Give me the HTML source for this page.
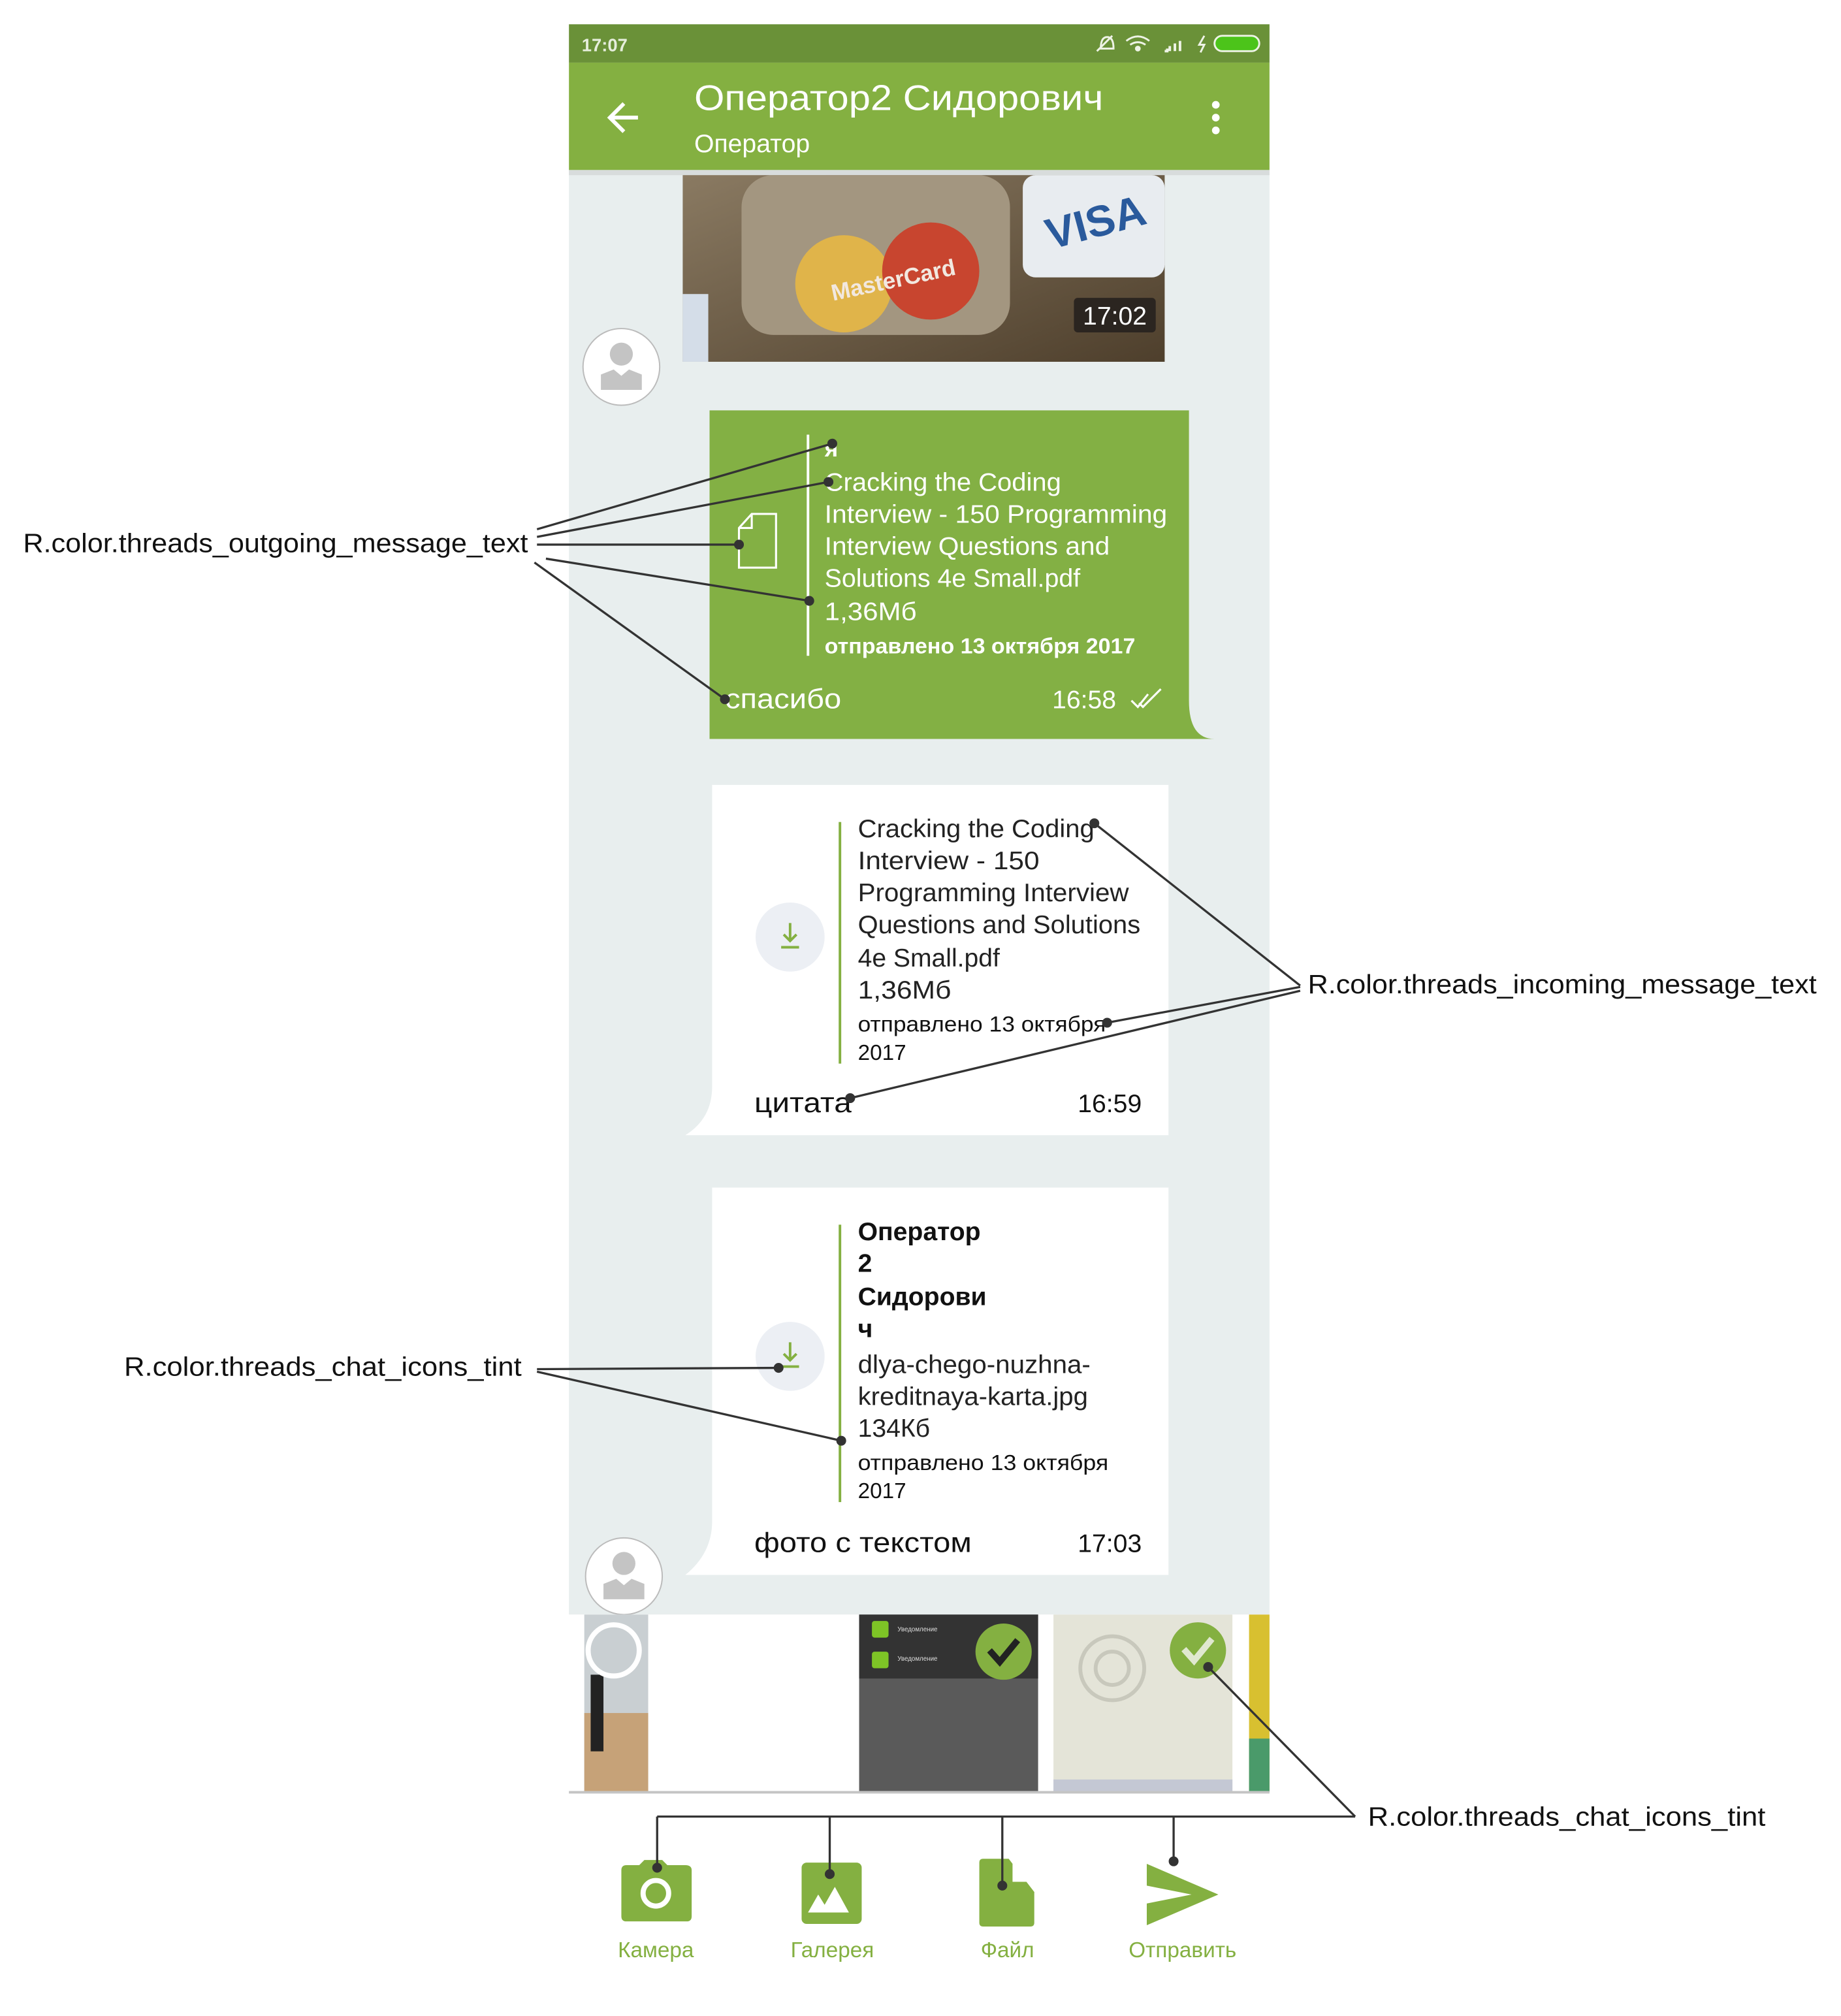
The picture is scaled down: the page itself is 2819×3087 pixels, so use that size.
<!DOCTYPE html>
<html><head><meta charset="utf-8"><style>
html,body{margin:0;padding:0;background:#fff;}
svg{display:block;}
text{font-family:"Liberation Sans","DejaVu Sans",sans-serif;}
</style></head><body>
<svg width="2819" height="3087" viewBox="0 0 1440 1577" xmlns="http://www.w3.org/2000/svg">
<rect width="1440" height="1577" fill="#fff"/>
<g>
 <rect x="445" y="133" width="548" height="1130" fill="#e8eeee"/>
 <rect x="445" y="19" width="548" height="30" fill="#6a9138"/>
 <text x="455" y="40" font-size="14" font-weight="bold" fill="#e6eedc">17:07</text>
 <g fill="none" stroke="#eef3e6" stroke-width="1.5">
  <path d="M858 40 L870 28 M861 38 q0-9 5-9 q5 0 5 9z"/>
  <path d="M881 32 q9-7 18 0 M884 35 q6-4 12 0"/><circle cx="890" cy="38" r="1.5" fill="#eef3e6"/>
  <path d="M911 40 h2 v-2 M915 40 v-4 M919 40 v-6 M923 40 v-8" stroke-width="2"/>
  <path d="M942 28 l-4 7 h4 l-3 6" />
  <rect x="950" y="28" width="35" height="12" rx="6" fill="#4cc41a" stroke="#eef3e6"/>
 </g>
 <rect x="445" y="49" width="548" height="84" fill="#84b041"/>
 <rect x="445" y="133" width="548" height="4" fill="#d8dcdc"/>
 <g stroke="#fff" stroke-width="3" fill="none"><path d="M477 92 h22 M488 81 l-11 11 l11 11"/></g>
 <text x="543" y="86" font-size="28" fill="#fff" textLength="320" lengthAdjust="spacingAndGlyphs">Оператор2 Сидорович</text>
 <text x="543" y="119" font-size="20" fill="#fff">Оператор</text>
 <g fill="#fff"><circle cx="951" cy="82" r="3"/><circle cx="951" cy="92" r="3"/><circle cx="951" cy="102" r="3"/></g>

 <g>
  <defs><linearGradient id="cg" x1="0" y1="0" x2="1" y2="1"><stop offset="0" stop-color="#8a7a62"/><stop offset="1" stop-color="#4e3f2c"/></linearGradient></defs>
  <rect x="534" y="137" width="377" height="146" fill="url(#cg)"/>
  <rect x="580" y="137" width="210" height="125" rx="25" fill="#a39680"/>
  <circle cx="660" cy="222" r="38" fill="#e0b44a"/><circle cx="728" cy="212" r="38" fill="#c8452f"/>
  <text x="700" y="225" font-size="18" font-weight="bold" fill="#f2e8e0" text-anchor="middle" transform="rotate(-12 700 225)">MasterCard</text>
  <rect x="800" y="137" width="111" height="80" rx="10" fill="#e8ecf0"/>
  <text x="860" y="185" font-size="34" font-weight="bold" fill="#2a5a9c" text-anchor="middle" transform="rotate(-15 860 185)">VISA</text>
  <rect x="534" y="230" width="20" height="53" fill="#d4dde8"/>
  <rect x="840" y="233" width="64" height="27" rx="3" fill="#2b2520"/>
  <text x="872" y="254" font-size="20" fill="#fff" text-anchor="middle">17:02</text>
 </g>
 <g>
  <circle cx="486" cy="287" r="30" fill="#fff" stroke="#bbb" stroke-width="1"/>
  <circle cx="486" cy="277" r="9" fill="#c4c4c4"/><path d="M470 305 v-12 l10-4 l6 5 l6-5 l10 4 v12z" fill="#c4c4c4"/>
 </g>

 <g>
  <path d="M555 321 H930 V548 Q930 578 950 578 H555 Z" fill="#83b044"/>
  <rect x="631" y="340" width="2" height="173" fill="#fff"/>
  <path d="M588 402 H607 V444 H578 V413 Z M578 413 H588 V402" fill="none" stroke="#fff" stroke-width="1.6"/>
  <text x="645" y="357" font-size="18" font-weight="bold" fill="#fff">я</text>
  <g font-size="20" fill="#fff">
   <text x="645" y="384" textLength="185" lengthAdjust="spacingAndGlyphs">Cracking the Coding</text>
   <text x="645" y="409" textLength="268" lengthAdjust="spacingAndGlyphs">Interview - 150 Programming</text>
   <text x="645" y="434" textLength="223" lengthAdjust="spacingAndGlyphs">Interview Questions and</text>
   <text x="645" y="459" textLength="200" lengthAdjust="spacingAndGlyphs">Solutions 4e Small.pdf</text>
   <text x="645" y="485" textLength="72" lengthAdjust="spacingAndGlyphs">1,36Мб</text>
  </g>
  <text x="645" y="511" font-size="17" fill="#fff" font-weight="bold" textLength="243" lengthAdjust="spacingAndGlyphs">отправлено 13 октября 2017</text>
  <text x="567" y="554" font-size="22" fill="#fff" textLength="91" lengthAdjust="spacingAndGlyphs">спасибо</text>
  <text x="823" y="554" font-size="20" fill="#fff">16:58</text>
  <path d="M885 548 l5 5 l8-10 M891 550 l3 3 l14-14" stroke="#fff" stroke-width="1.6" fill="none"/>
 </g>

 <g>
  <path d="M557 614 H914 V888 H536 Q557 875 557 850 Z" fill="#fff"/>
  <circle cx="618" cy="733" r="27" fill="#eceff4"/>
  <path d="M618 722 v14 M613 731 l5 5 l5-5 M611 741 h14" stroke="#84b041" stroke-width="2" fill="none"/>
  <rect x="656" y="643" width="2" height="189" fill="#84b041"/>
  <g font-size="20" fill="#222">
   <text x="671" y="655" textLength="185" lengthAdjust="spacingAndGlyphs">Cracking the Coding</text>
   <text x="671" y="680" textLength="142" lengthAdjust="spacingAndGlyphs">Interview - 150</text>
   <text x="671" y="705" textLength="212" lengthAdjust="spacingAndGlyphs">Programming Interview</text>
   <text x="671" y="730" textLength="221" lengthAdjust="spacingAndGlyphs">Questions and Solutions</text>
   <text x="671" y="756" textLength="111" lengthAdjust="spacingAndGlyphs">4e Small.pdf</text>
   <text x="671" y="781" textLength="73" lengthAdjust="spacingAndGlyphs">1,36Мб</text>
  </g>
  <g font-size="17" fill="#111">
   <text x="671" y="807" textLength="194" lengthAdjust="spacingAndGlyphs">отправлено 13 октября</text>
   <text x="671" y="829">2017</text>
  </g>
  <text x="590" y="870" font-size="22" fill="#111" textLength="76" lengthAdjust="spacingAndGlyphs">цитата</text>
  <text x="843" y="870" font-size="20" fill="#111">16:59</text>
 </g>

 <g>
  <path d="M557 929 H914 V1232 H536 Q557 1215 557 1190 Z" fill="#fff"/>
  <circle cx="618" cy="1061" r="27" fill="#eceff4"/>
  <path d="M618 1050 v14 M613 1059 l5 5 l5-5 M611 1069 h14" stroke="#84b041" stroke-width="2" fill="none"/>
  <rect x="656" y="958" width="2" height="217" fill="#84b041"/>
  <g font-size="20" font-weight="bold" fill="#111">
   <text x="671" y="970">Оператор</text><text x="671" y="995">2</text>
   <text x="671" y="1021">Сидорови</text><text x="671" y="1046">ч</text>
  </g>
  <g font-size="20" fill="#222">
   <text x="671" y="1074" textLength="182" lengthAdjust="spacingAndGlyphs">dlya-chego-nuzhna-</text>
   <text x="671" y="1099" textLength="180" lengthAdjust="spacingAndGlyphs">kreditnaya-karta.jpg</text>
   <text x="671" y="1124">134Кб</text>
  </g>
  <g font-size="17" fill="#111">
   <text x="671" y="1150" textLength="196" lengthAdjust="spacingAndGlyphs">отправлено 13 октября</text>
   <text x="671" y="1172">2017</text>
  </g>
  <text x="590" y="1214" font-size="22" fill="#111" textLength="170" lengthAdjust="spacingAndGlyphs">фото с текстом</text>
  <text x="843" y="1214" font-size="20" fill="#111">17:03</text>
 </g>
 <g>
  <circle cx="488" cy="1233" r="30" fill="#fff" stroke="#bbb" stroke-width="1"/>
  <circle cx="488" cy="1223" r="9" fill="#c4c4c4"/><path d="M472 1251 v-12 l10-4 l6 5 l6-5 l10 4 v12z" fill="#c4c4c4"/>
 </g>

 <g>
  <rect x="445" y="1263" width="548" height="139" fill="#fff"/>
  <rect x="457" y="1263" width="50" height="139" fill="#c9cfd2"/>
  <rect x="457" y="1340" width="50" height="62" fill="#c6a278"/>
  <path d="M462 1310 h10 v60 h-10z" fill="#222"/>
  <circle cx="480" cy="1291" r="20" fill="none" stroke="#fff" stroke-width="4"/>
  <rect x="672" y="1263" width="140" height="139" fill="#5a5a5a"/>
  <rect x="672" y="1263" width="140" height="50" fill="#333"/>
  <rect x="682" y="1268" width="13" height="13" rx="2" fill="#7ec426"/><rect x="682" y="1292" width="13" height="13" rx="2" fill="#7ec426"/>
  <text x="702" y="1276" font-size="5" fill="#ddd">Уведомление</text><text x="702" y="1299" font-size="5" fill="#ddd">Уведомление</text>
  <circle cx="785" cy="1292" r="22" fill="#84b041"/><path d="M774 1291 l8 9 l14-17" stroke="#222" stroke-width="5" fill="none"/>
  <rect x="824" y="1263" width="140" height="139" fill="#e4e4d8"/>
  <circle cx="870" cy="1305" r="25" fill="none" stroke="#c8c8bc" stroke-width="3"/><circle cx="870" cy="1305" r="13" fill="none" stroke="#c8c8bc" stroke-width="3"/>
  <rect x="824" y="1392" width="140" height="10" fill="#c4c8d4"/>
  <circle cx="937" cy="1291" r="22" fill="#84b041"/><path d="M926 1290 l8 9 l14-17" stroke="#e0e8d0" stroke-width="5" fill="none"/>
  <rect x="977" y="1263" width="16" height="139" fill="#d8c030"/>
  <rect x="977" y="1360" width="16" height="42" fill="#4a9a6a"/>
  <rect x="445" y="1401" width="548" height="2" fill="#c4c4c4"/>
 </g>

 <g fill="#84b041">
  <g>
   <path d="M486 1463 q0-4 4-4 h10 l4-4 h14 l4 4 h14 q5 0 5 4 v36 q0 4-4 4 h-47 q-4 0-4-4z"/>
   <circle cx="513" cy="1481" r="10" fill="none" stroke="#fff" stroke-width="4"/>
   <text x="513" y="1531" font-size="17" text-anchor="middle">Камера</text>
  </g>
  <g>
   <rect x="627" y="1457" width="47" height="48" rx="4"/>
   <path d="M632 1496 l8-14 l5 8 l8-14 l11 20z" fill="#fff"/>
   <text x="651" y="1531" font-size="17" text-anchor="middle">Галерея</text>
  </g>
  <g>
   <path d="M769 1454 h20 l20 26 v24 q0 3-3 3 h-37 q-3 0-3-3 v-47 q0-3 3-3z"/>
   <path d="M792 1455 v17 h14z" fill="#fff"/>
   <text x="788" y="1531" font-size="17" text-anchor="middle">Файл</text>
  </g>
  <g>
   <path d="M897 1458 l56 24 l-56 24 v-17 l35-7 l-35-7z"/>
   <text x="925" y="1531" font-size="17" text-anchor="middle">Отправить</text>
  </g>
 </g>
</g>

<g stroke="#333" stroke-width="1.7" fill="#333">
 <text x="18" y="432" font-size="21" stroke="none" fill="#111" textLength="395" lengthAdjust="spacingAndGlyphs">R.color.threads_outgoing_message_text</text>
 <path d="M420 414 L651 347 M420 420 L648 377 M420 426 L578 426 M427 437 L633 470 M418 440 L567 547" fill="none"/>
 <circle cx="651" cy="347" r="3"/><circle cx="648" cy="377" r="3"/><circle cx="578" cy="426" r="3"/><circle cx="633" cy="470" r="3"/><circle cx="567" cy="547" r="3"/>
 <text x="1023" y="777" font-size="21" stroke="none" fill="#111" textLength="398" lengthAdjust="spacingAndGlyphs">R.color.threads_incoming_message_text</text>
 <path d="M1017 771 L856 644 M1017 772 L866 800 M1017 775 L665 859" fill="none"/>
 <circle cx="856" cy="644" r="3"/><circle cx="866" cy="800" r="3"/><circle cx="665" cy="859" r="3"/>
 <text x="97" y="1076" font-size="21" stroke="none" fill="#111" textLength="311" lengthAdjust="spacingAndGlyphs">R.color.threads_chat_icons_tint</text>
 <path d="M420 1071 L609 1070 M420 1073 L658 1127" fill="none"/>
 <circle cx="609" cy="1070" r="3"/><circle cx="658" cy="1127" r="3"/>
 <text x="1070" y="1428" font-size="21" stroke="none" fill="#111" textLength="311" lengthAdjust="spacingAndGlyphs">R.color.threads_chat_icons_tint</text>
 <path d="M1060 1421 L945 1304 M514 1421 H1060 M514 1421 V1461 M649 1421 V1466 M784 1421 V1475 M918 1421 V1456" fill="none"/>
 <circle cx="945" cy="1304" r="3"/><circle cx="514" cy="1461" r="3"/><circle cx="649" cy="1466" r="3"/><circle cx="784" cy="1475" r="3"/><circle cx="918" cy="1456" r="3"/>
</g>
</svg>
</body></html>
